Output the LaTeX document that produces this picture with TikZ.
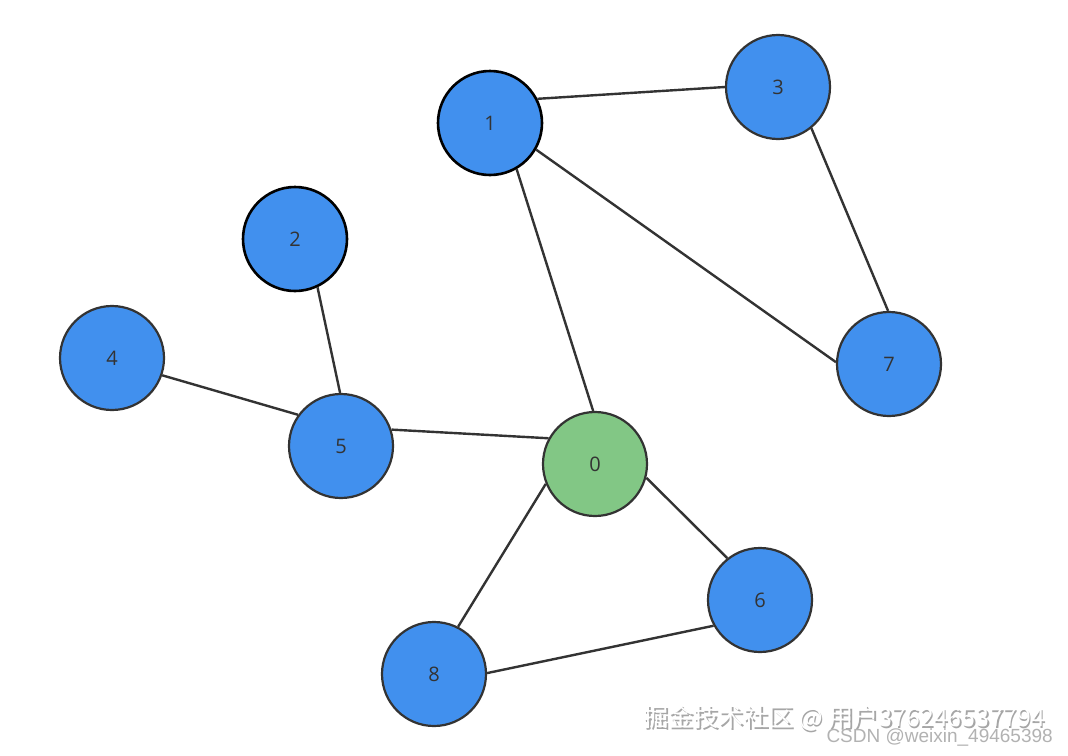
\documentclass[tikz,border=0pt]{standalone}
\usepackage{fontspec}
\setmainfont{Open Sans}
\newfontfamily\cjk{Noto Sans CJK SC}
\newfontfamily\wmfont{Liberation Sans}
\definecolor{nodeblue}{HTML}{4190EE}
\definecolor{nodegreen}{HTML}{82C785}
\definecolor{edgegray}{HTML}{333333}
\begin{document}
\begin{tikzpicture}[x=1pt,y=-1pt,
  vtx/.style={circle,minimum size=104pt,inner sep=0pt,draw=edgegray,line width=2.2pt,fill=nodeblue,font=\fontsize{20}{20}\selectfont,text=edgegray},
  vtxdark/.style={vtx,draw=black,line width=2.6pt},
  start/.style={vtx,fill=nodegreen},
  edge/.style={draw=edgegray,line width=2.4pt}]
\useasboundingbox[fill=white] (0,0) rectangle (1068,755);
\node[start] (n0) at (595,464) {0};
\node[vtxdark] (n1) at (490,123) {1};
\node[vtxdark] (n2) at (295,239) {2};
\node[vtx] (n3) at (778,87) {3};
\node[vtx] (n4) at (112,358) {4};
\node[vtx] (n5) at (341,446) {5};
\node[vtx] (n6) at (760,600) {6};
\node[vtx] (n7) at (889,364) {7};
\node[vtx] (n8) at (434,674) {8};
\draw[edge] (n1.27) -- (n3.180);
\draw[edge] (n1.-60) -- (n0.92);
\draw[edge] (n1.-30) -- (n7.178);
\draw[edge] (n3.-51) -- (n7.91);
\draw[edge] (n2.-65) -- (n5.91);
\draw[edge] (n4.-19) -- (n5.144);
\draw[edge] (n5.18) -- (n0.151);
\draw[edge] (n0.202) -- (n8.63);
\draw[edge] (n0.-15) -- (n6.128);
\draw[edge] (n8.1) -- (n6.209);
\node[anchor=west,inner sep=0pt,text=gray!70,font=\cjk\fontsize{25}{25}\selectfont] (wmshadow) at (645,720) {掘金技术社区 @ 用户376246537794};
\node[anchor=west,inner sep=0pt,text=white,font=\cjk\fontsize{25}{25}\selectfont] (wm) at (643.5,718.5) {掘金技术社区 @ 用户376246537794};
\node[anchor=east,inner sep=0pt,text=gray!60,font=\wmfont\fontsize{19}{19}\selectfont] (csdn) at (1053,737) {CSDN @weixin\_49465398};
\end{tikzpicture}
\end{document}
